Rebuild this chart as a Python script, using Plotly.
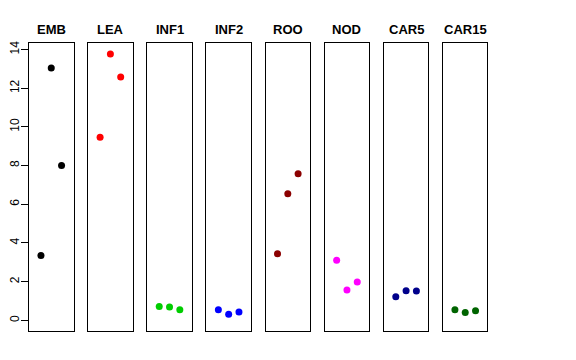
import plotly.graph_objects as go

categories = ["EMB", "LEA", "INF1", "INF2", "ROO", "NOD", "CAR5", "CAR15"]
colors = ["#000000", "#FF0000", "#00CD00", "#0000FF", "#8B0000", "#FF00FF", "#00008B", "#006400"]
x_index = [1, 2, 3]
values = {
    "EMB": [3.35, 13.05, 8.01],
    "LEA": [9.46, 13.77, 12.58],
    "INF1": [0.72, 0.69, 0.55],
    "INF2": [0.55, 0.31, 0.43],
    "ROO": [3.44, 6.55, 7.58],
    "NOD": [3.11, 1.57, 1.98],
    "CAR5": [1.22, 1.53, 1.52],
    "CAR15": [0.55, 0.40, 0.50],
}
y_ticks = [0, 2, 4, 6, 8, 10, 12, 14]

W, H = 576, 360
OFF = 8.0  # page body margin offset
left0, step, pw = 29.0 - OFF, 59.14, 44.5
top_px, bot_px = 43.3 - OFF, 331.0 - OFF
title_px = 29.5 - OFF
ydom = [1 - bot_px / H, 1 - top_px / H]
ymax = max(max(v) for v in values.values())
ypad = 0.04 * ymax
yrange = [0 - ypad, ymax + ypad]

fig = go.Figure()
font_fam = "Liberation Sans, Arial, sans-serif"
for i, cat in enumerate(categories):
    n = "" if i == 0 else str(i + 1)
    fig.add_trace(go.Scatter(
        x=x_index, y=values[cat], mode="markers",
        marker=dict(color=colors[i], size=7, line=dict(width=0)),
        xaxis="x" + n, yaxis="y" + n, showlegend=False,
    ))
    x0 = (left0 + step * i) / W
    x1 = (left0 + step * i + pw) / W
    fig.layout["xaxis" + n] = dict(
        domain=[x0, x1], range=[-0.16, 4.16], showgrid=False, zeroline=False,
        showticklabels=False, ticks="", showline=True, linecolor="#000000",
        linewidth=1, mirror=True, anchor="y" + n, fixedrange=True, automargin=False,
    )
    yax = dict(
        domain=ydom, range=yrange, showgrid=False, zeroline=False,
        showline=True, linecolor="#000000", linewidth=1, mirror=True,
        anchor="x" + n, fixedrange=True, automargin=False,
    )
    if i == 0:
        yax.update(tickmode="array", tickvals=y_ticks, ticktext=[str(t) for t in y_ticks],
                   ticks="outside", ticklen=7, tickcolor="#000000", tickangle=-90,
                   ticklabelstandoff=-3,
                   tickfont=dict(family=font_fam, size=12, color="#000000"))
    else:
        yax.update(showticklabels=False, ticks="")
    fig.layout["yaxis" + n] = yax
    fig.add_annotation(
        x=(x0 + x1) / 2, y=1 - title_px / H, xref="paper", yref="paper",
        text="<b>" + cat + "</b>", showarrow=False,
        font=dict(family=font_fam, size=13, color="#000000"),
        xanchor="center", yanchor="middle",
    )

fig.update_layout(
    width=W, height=H, margin=dict(l=0, r=0, t=0, b=0, autoexpand=False),
    paper_bgcolor="white", plot_bgcolor="white",
)
fig.write_html("out.html")
